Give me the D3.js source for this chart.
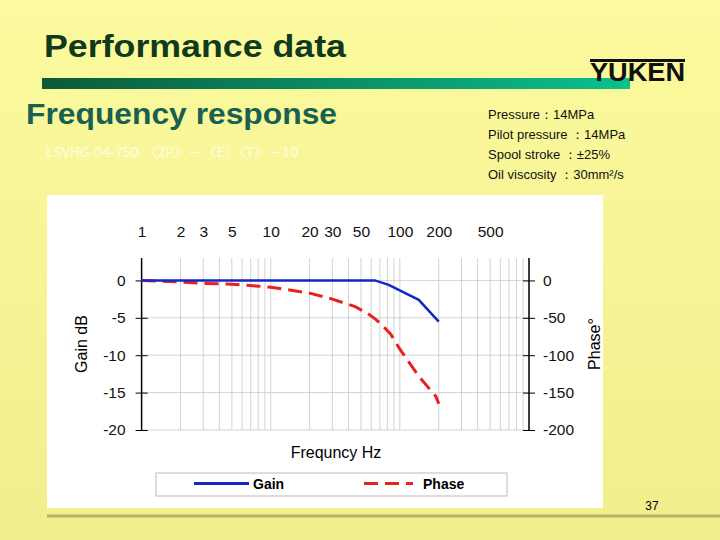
<!DOCTYPE html><html><head><meta charset="utf-8"><script src="https://cdn.jsdelivr.net/npm/d3@7"></script>
<style>body{margin:0}svg{display:block;font-family:Arial,"Liberation Sans",sans-serif}</style></head><body>
<svg id="c" width="720" height="540"></svg>
<script>
const gainFreq=[1,2,5,10,20,30,50,64,82,140,200];
const gainDb=[0,0,0,0,0,0,0,0,-0.6,-2.6,-5.5];
const phaseFreq=[1,2,3,5,10,20,30,45,55,65,75,85,100,140,190,200];
const phaseDeg=[0,-2,-4,-5,-9,-17,-25,-35,-43,-52,-62,-72,-92,-128,-155,-165];
const xTickLabels=[1,2,3,5,10,20,30,50,100,200,500];
const gainTicks=[0,-5,-10,-15,-20];
const phaseTicks=[0,-50,-100,-150,-200];
const info=["Pressure：14MPa","Pilot pressure ：14MPa","Spool stroke ：±25%","Oil viscosity ：30mm²/s"];

const svg=d3.select("#c");
const defs=svg.append("defs");
const bg=defs.append("linearGradient").attr("id","bg").attr("x1",0).attr("y1",0).attr("x2",0).attr("y2",1);
bg.append("stop").attr("offset",0).attr("stop-color","#fbfa9e");
bg.append("stop").attr("offset",1).attr("stop-color","#f1ee8c");
const bar=defs.append("linearGradient").attr("id","bar");
bar.append("stop").attr("offset",0).attr("stop-color","#0b5a3a");
bar.append("stop").attr("offset",1).attr("stop-color","#0cc08e");
svg.append("rect").attr("width",720).attr("height",540).attr("fill","url(#bg)");
svg.append("text").attr("x",44).attr("y",57).attr("font-size",32).attr("font-weight","bold").attr("fill","#0f3a1c").attr("textLength",302).attr("lengthAdjust","spacingAndGlyphs").text("Performance data");
svg.append("rect").attr("x",42).attr("y",78).attr("width",588).attr("height",11).attr("fill","url(#bar)");
svg.append("text").attr("x",590).attr("y",81).attr("font-size",25).attr("font-weight","bold").attr("fill","#111").attr("textLength",95).attr("lengthAdjust","spacingAndGlyphs").text("YUKEN");
svg.append("rect").attr("x",590).attr("y",59).attr("width",95).attr("height",3).attr("fill","#111");
svg.append("text").attr("x",26).attr("y",124).attr("font-size",30).attr("font-weight","bold").attr("fill","#186050").attr("textLength",311).attr("lengthAdjust","spacingAndGlyphs").text("Frequency response");
svg.append("text").attr("x",46).attr("y",157).attr("font-size",13).attr("fill","#fdfde8").attr("font-family","'Noto Sans CJK JP',sans-serif").attr("textLength",252).attr("lengthAdjust","spacingAndGlyphs").text("LSVHG-04-750-〈2P〉－〈E〉〈T〉－10");
info.forEach((t,i)=>svg.append("text").attr("x",488).attr("y",119+i*20).attr("font-size",13).attr("fill","#111").text(t));
svg.append("rect").attr("x",47).attr("y",195).attr("width",556).attr("height",313).attr("fill","#fff");
svg.append("line").attr("x1",47).attr("x2",720).attr("y1",516).attr("y2",516).attr("stroke","#b8b070").attr("stroke-width",3);
svg.append("text").attr("x",652).attr("y",510).attr("font-size",12).attr("text-anchor","middle").text("37");

const L=141.6,R=529,T=258,B=430;
const x=d3.scaleLog().domain([1,1000]).range([L,R]);
const y=d3.scaleLinear().domain([-20,3]).range([B,T]);
const yp=d3.scaleLinear().domain([-200,30]).range([B,T]);
const g=svg.append("g");
const grid=[];for(let d=1;d<1000;d*=10)for(let k=1;k<10;k++)grid.push(d*k);grid.push(1000);
g.selectAll(".vg").data(grid).join("line").attr("x1",d=>x(d)).attr("x2",d=>x(d)).attr("y1",T).attr("y2",B).attr("stroke","#c8c8c8").attr("stroke-width",0.8);
g.selectAll(".hg").data(gainTicks).join("line").attr("x1",L).attr("x2",R).attr("y1",d=>y(d)).attr("y2",d=>y(d)).attr("stroke","#c8c8c8").attr("stroke-width",0.8);
const fmt=d=>String(d);
const la=g.append("g").attr("transform",`translate(${L},0)`).call(d3.axisLeft(y).tickValues(gainTicks).tickFormat(fmt).tickSize(6).tickPadding(10));
const ra=g.append("g").attr("transform",`translate(${R},0)`).call(d3.axisRight(yp).tickValues(phaseTicks).tickFormat(fmt).tickSize(6).tickPadding(8));
[la,ra].forEach(a=>{a.select(".domain").remove();a.selectAll("text").attr("font-size",15.5).attr("fill","#111");a.selectAll("line").attr("stroke","#000");});
la.selectAll(".tick line").attr("x1",6).attr("x2",-6);
ra.selectAll(".tick line").attr("x1",-6).attr("x2",6);
g.append("line").attr("x1",L).attr("x2",L).attr("y1",T).attr("y2",B).attr("stroke","#000").attr("stroke-width",1.5);
g.append("line").attr("x1",R).attr("x2",R).attr("y1",T).attr("y2",B).attr("stroke","#000").attr("stroke-width",1.5);
const ta=g.append("g").attr("transform","translate(0,240)").call(d3.axisTop(x).tickValues(xTickLabels).tickFormat(d3.format("d")).tickSize(0));
ta.select(".domain").remove();ta.selectAll("text").attr("font-size",15.5).attr("fill","#111");
const gl=d3.line().x(d=>x(d[0])).y(d=>y(d[1]));
const pl=d3.line().x(d=>x(d[0])).y(d=>yp(d[1]));
g.append("path").attr("d",pl(d3.zip(phaseFreq,phaseDeg))).attr("fill","none").attr("stroke","#e8201e").attr("stroke-width",3).attr("stroke-dasharray","14,7");
g.append("path").attr("d",gl(d3.zip(gainFreq,gainDb))).attr("fill","none").attr("stroke","#1428c8").attr("stroke-width",2.5);
svg.append("text").attr("transform","translate(87,344) rotate(-90)").attr("text-anchor","middle").attr("font-size",16).text("Gain dB");
svg.append("text").attr("transform","translate(600,344) rotate(-90)").attr("text-anchor","middle").attr("font-size",16).text("Phase°");
svg.append("text").attr("x",336).attr("y",458).attr("text-anchor","middle").attr("font-size",16).text("Frequncy Hz");
svg.append("rect").attr("x",156).attr("y",473).attr("width",351).attr("height",23).attr("fill","#fff").attr("stroke","#bbb");
svg.append("line").attr("x1",194).attr("x2",249).attr("y1",483.5).attr("y2",483.5).attr("stroke","#1428c8").attr("stroke-width",3);
svg.append("text").attr("x",253).attr("y",488.5).attr("font-size",14).attr("font-weight","bold").text("Gain");
svg.append("line").attr("x1",364).attr("x2",413).attr("y1",483.5).attr("y2",483.5).attr("stroke","#e8201e").attr("stroke-width",3).attr("stroke-dasharray","14,7");
svg.append("text").attr("x",423).attr("y",488.5).attr("font-size",14).attr("font-weight","bold").text("Phase");
</script></body></html>
